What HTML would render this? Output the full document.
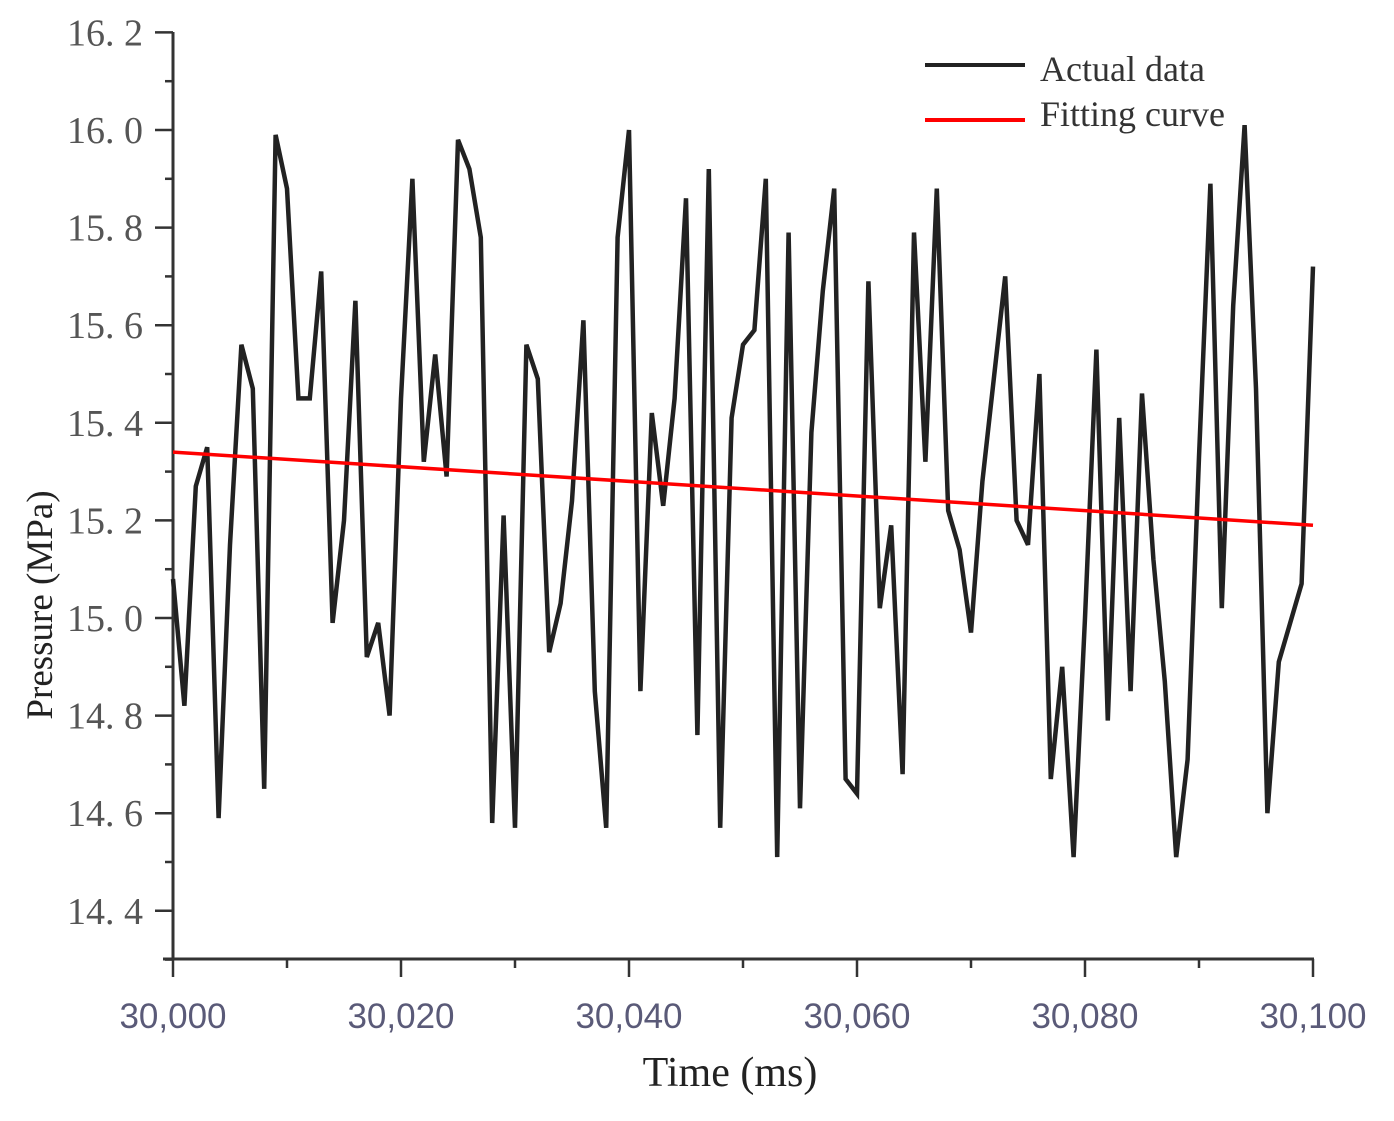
<!DOCTYPE html>
<html><head><meta charset="utf-8"><style>
html,body{margin:0;padding:0;background:#fff;}
svg{display:block;}
</style></head><body>
<svg id="chart" width="1394" height="1121" xmlns="http://www.w3.org/2000/svg">
<g id="axes"></g>
<g id="series"></g>
<g>
<line x1="925" y1="65" x2="1025" y2="65" stroke="#222" stroke-width="4"/>
<text x="1040" y="81" font-family="Liberation Serif, serif" font-size="36" fill="#333">Actual data</text>
<line x1="925" y1="120" x2="1025" y2="120" stroke="#f00" stroke-width="4"/>
<text x="1040" y="126" font-family="Liberation Serif, serif" font-size="36" fill="#333">Fitting curve</text>
</g>
<text transform="translate(52,605) rotate(-90)" text-anchor="middle" font-family="Liberation Serif, serif" font-size="37" fill="#222">Pressure (MPa)</text>
<text x="730" y="1086" text-anchor="middle" font-family="Liberation Serif, serif" font-size="42" fill="#222">Time (ms)</text>
</svg>
<script>
const values = [15.08,14.82,15.27,15.35,14.59,15.15,15.56,15.47,14.65,15.99,15.88,15.45,15.45,15.71,14.99,15.2,15.65,14.92,14.99,14.80,
15.45,15.9,15.32,15.54,15.29,15.98,15.92,15.78,14.58,15.21,14.57,15.56,15.49,14.93,15.03,15.24,15.61,14.85,14.57,15.78,
16.0,14.85,15.42,15.23,15.45,15.86,14.76,15.92,14.57,15.41,15.56,15.59,15.9,14.51,15.79,14.61,15.38,15.67,15.88,14.67,
14.64,15.69,15.02,15.19,14.68,15.79,15.32,15.88,15.22,15.14,14.97,15.28,15.49,15.7,15.2,15.15,15.5,14.67,14.9,14.51,
15.0,15.55,14.79,15.41,14.85,15.46,15.12,14.87,14.51,14.71,15.33,15.89,15.02,15.64,16.01,15.47,14.6,14.91,14.99,15.07,15.72];
const xStart = 30000;
const fitStart = 15.34;
const fitEnd = 15.19;
const yTicks = [14.4,14.6,14.8,15.0,15.2,15.4,15.6,15.8,16.0,16.2];
const yTickLabels = ["14. 4","14. 6","14. 8","15. 0","15. 2","15. 4","15. 6","15. 8","16. 0","16. 2"];
const xTicks = [30000,30020,30040,30060,30080,30100];
const xTickLabels = ["30,000","30,020","30,040","30,060","30,080","30,100"];

const NS="http://www.w3.org/2000/svg";
const X0=173,X1=1313,Y16=130,PXU=488;
function sx(t){return X0+(t-30000)*(X1-X0)/100;}
function sy(v){return Y16-(v-16.0)*PXU;}
function mk(tag,attrs,parent){const e=document.createElementNS(NS,tag);for(const k in attrs)e.setAttribute(k,attrs[k]);parent.appendChild(e);return e;}
const axes=document.getElementById('axes'), series=document.getElementById('series');
const ST='#333';
let e;
e=mk('line',{x1:X0,y1:32,x2:X0,y2:960,stroke:ST,'stroke-width':3},axes);


e=mk('line',{x1:163,y1:959,x2:X1+1,y2:959,stroke:ST,'stroke-width':3},axes);


for(let v=14.3;v<=16.21;v+=0.1){
  const major=yTicks.some(t=>Math.abs(t-v)<1e-6);
  e=mk('line',{x1:major?155:165,y1:sy(v),x2:X0,y2:sy(v),stroke:ST,'stroke-width':2.5},axes);
  
  
}
yTicks.forEach((v,i)=>{
  e=mk('text',{x:143,y:sy(v)+13,'text-anchor':'end','font-family':'Liberation Serif, serif','font-size':38,fill:'#555'},axes);
  e.textContent=yTickLabels[i];
  
  
});
for(let t=30000;t<=30100;t+=10){
  const major=xTicks.includes(t);
  e=mk('line',{x1:sx(t),y1:959,x2:sx(t),y2:major?977:968,stroke:ST,'stroke-width':2.5},axes);
  
  
}
xTicks.forEach((t,i)=>{
  e=mk('text',{x:sx(t),y:1028,'text-anchor':'middle','font-family':'Liberation Sans, sans-serif','font-size':35,fill:'#5a5a78'},axes);
  e.textContent=xTickLabels[i];
  
  
});
const pts=values.map((v,i)=>sx(xStart+i).toFixed(1)+','+sy(v).toFixed(1)).join(' ');
e=mk('polyline',{points:pts,fill:'none',stroke:'#222','stroke-width':4.5,'stroke-linejoin':'miter','stroke-miterlimit':4},series);


e=mk('line',{x1:sx(30000),y1:sy(fitStart),x2:sx(30100),y2:sy(fitEnd),stroke:'#f00','stroke-width':3.5},series);


</script>
</body></html>
